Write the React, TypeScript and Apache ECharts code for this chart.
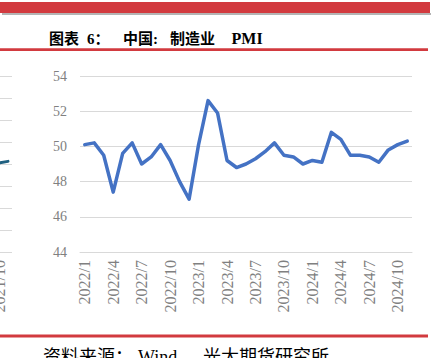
import React, { useEffect, useRef } from "react";
import * as echarts from "echarts";

const months = [
  "2022/1", "2022/2", "2022/3", "2022/4", "2022/5", "2022/6", "2022/7", "2022/8", "2022/9", "2022/10", "2022/11", "2022/12",
  "2023/1", "2023/2", "2023/3", "2023/4", "2023/5", "2023/6", "2023/7", "2023/8", "2023/9", "2023/10", "2023/11", "2023/12",
  "2024/1", "2024/2", "2024/3", "2024/4", "2024/5", "2024/6", "2024/7", "2024/8", "2024/9", "2024/10", "2024/11",
];
const pmi = [
  50.1, 50.2, 49.5, 47.4, 49.6, 50.2, 49.0, 49.4, 50.1, 49.2, 48.0, 47.0,
  50.1, 52.6, 51.9, 49.2, 48.8, 49.0, 49.3, 49.7, 50.2, 49.5, 49.4, 49.0,
  49.2, 49.1, 50.8, 50.4, 49.5, 49.5, 49.4, 49.1, 49.8, 50.1, 50.3,
];
const yTicks = { min: 44, max: 54, interval: 2 };

// partial neighbouring chart at the left edge
const leftMonths = [
  "2020/8", "2020/9", "2020/10", "2020/11", "2020/12", "2021/1", "2021/2", "2021/3",
  "2021/4", "2021/5", "2021/6", "2021/7", "2021/8", "2021/9", "2021/10", "2021/11",
];
const leftValues: (number | null)[] = [
  null, null, null, null, null, null, null, null,
  null, null, null, null, null, null, 4.05, 4.12,
];
const leftShownLabel = "2021/10";

const titleParts = [
  { text: "图表", x: 49 },
  { text: "6：", x: 87 },
  { text: "中国:", x: 123 },
  { text: "制造业", x: 170 },
];
const sourceParts = [
  { text: "资料来源：", x: 43 },
  { text: "Wind，", x: 138 },
  { text: "光大期货研究所", x: 203 },
];

const RED = "#D23A3F";
const GRID = "#d9d9d9";
const LABEL = "#808080";
const MIXED = '"Liberation Serif", "Noto Sans CJK SC", serif';

export default function App() {
  const ref = useRef<HTMLDivElement>(null);
  useEffect(() => {
    if (!ref.current) return;
    const chart = echarts.init(ref.current, undefined, { renderer: "svg" });
    const graphics: any[] = [
      { type: "rect", shape: { x: 0, y: 2, width: 430, height: 11 }, style: { fill: RED } },
      { type: "rect", shape: { x: 2, y: 13, width: 429, height: 2 }, style: { fill: "#b4b4b4" } },
      { type: "rect", shape: { x: 0, y: 48.3, width: 428, height: 2.7 }, style: { fill: RED } },
      { type: "rect", shape: { x: 0, y: 334.5, width: 428, height: 3 }, style: { fill: RED } },
    ];
    titleParts.forEach((p) =>
      graphics.push({
        type: "text",
        x: p.x,
        y: 38.5,
        style: {
          text: p.text,
          font: `bold 15px ${MIXED}`,
          fill: "#000",
          align: "left",
          verticalAlign: "middle",
          textAlign: "left",
          textVerticalAlign: "middle",
        },
      })
    );
    graphics.push({
      type: "text",
      x: 231.5,
      y: 38.5,
      style: {
        text: "PMI",
        font: 'bold 16px "Liberation Serif", serif',
        fill: "#000",
        align: "left",
        verticalAlign: "middle",
        textAlign: "left",
        textVerticalAlign: "middle",
      },
    });
    sourceParts.forEach((p) =>
      graphics.push({
        type: "text",
        x: p.x,
        y: 356.5,
        style: {
          text: p.text,
          font: `18px ${MIXED}`,
          fill: "#000",
          align: "left",
          verticalAlign: "middle",
          textAlign: "left",
          textVerticalAlign: "middle",
        },
      })
    );

    chart.setOption({
      animation: false,
      backgroundColor: "#fff",
      grid: [
        { left: 80, right: 19, top: 76, bottom: 106, outerBoundsMode: "none", containLabel: false },
        { left: -117, width: 129, top: 76, height: 176, outerBoundsMode: "none", containLabel: false },
      ],
      xAxis: [
        {
          type: "category",
          gridIndex: 0,
          data: months,
          boundaryGap: true,
          axisLine: { lineStyle: { color: GRID, width: 1 } },
          axisTick: { interval: 2, length: 5, lineStyle: { color: GRID } },
          axisLabel: {
            interval: 2,
            rotate: 90,
            margin: 8,
            color: LABEL,
            fontFamily: "Liberation Serif",
            fontSize: 16,
          },
          splitLine: { show: false },
        },
        {
          type: "category",
          gridIndex: 1,
          data: leftMonths,
          boundaryGap: true,
          axisLine: { show: false },
          axisTick: { show: false },
          axisLabel: {
            interval: (_i: number, v: string) => v === leftShownLabel,
            rotate: 90,
            margin: 8,
            color: LABEL,
            fontFamily: "Liberation Serif",
            fontSize: 16,
          },
        },
      ],
      yAxis: [
        {
          type: "value",
          gridIndex: 0,
          min: yTicks.min,
          max: yTicks.max,
          interval: yTicks.interval,
          axisLine: { show: false },
          axisTick: { show: false },
          axisLabel: { color: LABEL, fontFamily: "Liberation Serif", fontSize: 14, margin: 13 },
          splitLine: { lineStyle: { color: GRID, width: 1 } },
        },
        {
          type: "value",
          gridIndex: 1,
          min: 0,
          max: 8,
          interval: 1,
          axisLine: { show: false },
          axisTick: { show: false },
          axisLabel: { show: false },
          splitLine: { lineStyle: { color: GRID, width: 1 } },
        },
      ],
      series: [
        {
          type: "line",
          xAxisIndex: 0,
          yAxisIndex: 0,
          data: pmi,
          symbol: "none",
          showSymbol: false,
          lineStyle: { color: "#4472C4", width: 3.5, cap: "round", join: "round" },
          itemStyle: { color: "#4472C4" },
        },
        {
          type: "line",
          xAxisIndex: 1,
          yAxisIndex: 1,
          data: leftValues,
          symbol: "none",
          showSymbol: false,
          lineStyle: { color: "#1f6080", width: 3, cap: "round" },
          itemStyle: { color: "#1f6080" },
        },
      ],
      graphic: graphics,
    });
    return () => chart.dispose();
  }, []);
  return (
    <div
      ref={ref}
      style={{ position: "fixed", left: 0, top: 0, width: 431, height: 358, background: "#fff" }}
    />
  );
}
